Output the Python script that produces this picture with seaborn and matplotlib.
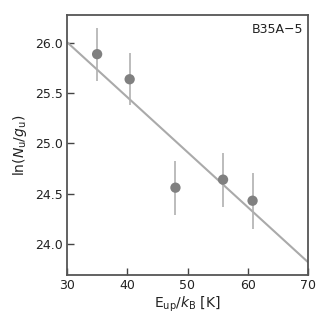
import matplotlib
matplotlib.use("Agg")
import matplotlib.pyplot as plt
import seaborn as sns
import numpy as np
import pandas as pd

# data
e_up = [35.0, 40.4, 48.0, 55.9, 60.8]
ln_ng = [25.89, 25.64, 24.56, 24.64, 24.43]
ln_err = [0.265, 0.26, 0.27, 0.27, 0.28]
fit_x = [30.0, 70.0]
fit_slope = -0.0548
fit_intercept = 27.654
label = "B35A\u22125"

sns.set_theme(style="white")
plt.rcParams['font.family'] = ['DejaVu Sans']

fig = plt.figure(figsize=(3.19, 3.19), dpi=100)
ax = fig.add_axes([67/319, 44/319, 241/319, 260/319])

df = pd.DataFrame({"E": e_up, "lnN": ln_ng, "err": ln_err})
fx = np.array(fit_x)
fit_df = pd.DataFrame({"E": fx, "lnN": fit_intercept + fit_slope * fx})

sns.lineplot(data=fit_df, x="E", y="lnN", ax=ax, color="#aaaaaa", lw=1.5, zorder=1)
ax.errorbar(df["E"], df["lnN"], yerr=df["err"], fmt="none", ecolor="#b0b0b0", elinewidth=1.2, zorder=2)
sns.scatterplot(data=df, x="E", y="lnN", ax=ax, color="#808080", s=55, edgecolor="none", zorder=3)

ax.set_xlim(30, 70)
ax.set_ylim(23.69, 26.28)
ax.set_xticks([30, 40, 50, 60, 70])
ax.set_yticks([24.0, 24.5, 25.0, 25.5, 26.0])
ax.set_yticklabels(["24.0", "24.5", "25.0", "25.5", "26.0"])
ax.tick_params(direction="in", length=5, width=1, colors="#444444", labelsize=9, labelcolor="#222222", pad=3)
ax.tick_params(axis="both", which="both", bottom=True, left=True, top=False, right=False)
for s in ax.spines.values():
    s.set_color("#555555")
    s.set_linewidth(1.3)

ax.set_xlabel(r"E$_{\rm up}$/$k_{\rm B}$ [K]", fontsize=10, color="#222222", labelpad=2)
ax.set_ylabel(r"ln($N_{\rm u}$/$g_{\rm u}$)", fontsize=10, color="#222222", labelpad=4)
ax.text(0.98, 0.97, label, transform=ax.transAxes, ha="right", va="top", fontsize=9, color="#222222")

fig.savefig("out.png", dpi=100)
